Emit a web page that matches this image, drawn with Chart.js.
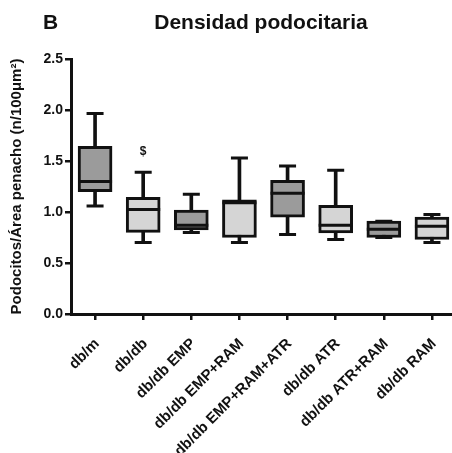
<!DOCTYPE html>
<html>
<head>
<meta charset="utf-8">
<script src="https://cdn.jsdelivr.net/npm/chart.js@4"></script>
<style>
  html, body { margin: 0; padding: 0; background: #fff; overflow: hidden; }
  #wrap { position: relative; width: 458px; height: 453px; }
  .lbl { position: absolute; top: 10px; font: bold 21px "Liberation Sans", Arial, sans-serif; color: #111; white-space: nowrap; }
  #panel { left: 43px; }
  #title { left: 261px; transform: translateX(-50%); }
</style>
</head>
<body>
<div id="wrap">
  <canvas id="chart"></canvas>
  <div id="panel" class="lbl">B</div>
  <div id="title" class="lbl">Densidad podocitaria</div>
</div>
<script>
// grupos
const categories = ['db/m', 'db/db', 'db/db EMP', 'db/db EMP+RAM', 'db/db EMP+RAM+ATR', 'db/db ATR', 'db/db ATR+RAM', 'db/db RAM'];

// valores de cada caja (min, Q1, mediana, Q3, max)
const minVals = [1.06, 0.70, 0.80, 0.70, 0.78, 0.73, 0.75, 0.70];
const q1Vals = [1.20, 0.80, 0.825, 0.75, 0.95, 0.795, 0.75, 0.73];
const medianVals = [1.30, 1.025, 0.87, 1.09, 1.185, 0.87, 0.83, 0.86];
const q3Vals = [1.645, 1.145, 1.02, 1.12, 1.31, 1.065, 0.91, 0.95];
const maxVals = [1.965, 1.39, 1.175, 1.53, 1.45, 1.41, 0.91, 0.975];

// marcas de significancia
const sigLabels = ['', '$', '', '', '', '', '', ''];
const sigY = [0, 1.595, 0, 0, 0, 0, 0, 0];

// eje y
const yTicks = [0, 0.5, 1.0, 1.5, 2.0, 2.5];

const darkFill = '#9b9b9b';
const lightFill = '#d5d5d5';
const ink = '#111';

Chart.defaults.font.family = '"Liberation Sans", Arial, sans-serif';
Chart.defaults.color = ink;

// texto de significancia sobre las cajas
const sigPlugin = {
    id: 'sig',
    afterDatasetsDraw(chart) {
        const { ctx, scales: { x, y } } = chart;
        ctx.save();
        ctx.font = 'bold 12px "Liberation Sans", Arial, sans-serif';
        ctx.fillStyle = ink;
        ctx.textAlign = 'center';
        ctx.textBaseline = 'middle';
        sigLabels.forEach((s, i) => {
            if (s) ctx.fillText(s, x.getPixelForValue(i), y.getPixelForValue(sigY[i]));
        });
        ctx.restore();
    }
};

new Chart(document.getElementById('chart'), {
    type: 'bar',
    data: {
        labels: categories,
        datasets: [
            {
                // bigotes
                type: 'bar',
                data: categories.map((_, i) => [minVals[i], maxVals[i]]),
                backgroundColor: ink,
                barThickness: 3,
                grouped: false,
                order: 3
            },
            {
                // cajas
                type: 'bar',
                data: categories.map((_, i) => [q1Vals[i], q3Vals[i]]),
                backgroundColor: categories.map((_, i) => i % 2 === 0 ? darkFill : lightFill),
                borderColor: ink,
                borderWidth: 3,
                borderSkipped: false,
                barThickness: 34,
                grouped: false,
                order: 2
            },
            {
                // medianas
                type: 'line',
                data: medianVals,
                showLine: false,
                pointStyle: 'line',
                pointRadius: 17,
                pointBorderWidth: 3,
                pointBorderColor: ink,
                order: 1
            },
            {
                type: 'line',
                data: maxVals,
                showLine: false,
                pointStyle: 'line',
                pointRadius: 8.5,
                pointBorderWidth: 3,
                pointBorderColor: ink,
                order: 1
            },
            {
                type: 'line',
                data: minVals,
                showLine: false,
                pointStyle: 'line',
                pointRadius: 8.5,
                pointBorderWidth: 3,
                pointBorderColor: ink,
                order: 1
            }
        ]
    },
    options: {
        responsive: true,
        maintainAspectRatio: false,
        animation: false,
        events: [],
        layout: { autoPadding: false, padding: { top: 59, right: 2 } },
        plugins: {
            legend: { display: false },
            tooltip: { enabled: false }
        },
        scales: {
            x: {
                afterFit(scale) {
                    scale.height = 139;
                    scale.paddingLeft = 0;
                    scale.paddingRight = 0;
                },
                border: { color: ink, width: 3 },
                grid: { display: true, drawOnChartArea: false, offset: false, tickLength: 6, color: ink, lineWidth: 2.5 },
                ticks: {
                    minRotation: 45,
                    maxRotation: 45,
                    padding: 15,
                    labelOffset: 2,
                    color: ink,
                    font: { size: 15, weight: 'bold' }
                }
            },
            y: {
                min: 0,
                max: 2.5,
                afterFit(scale) {
                    scale.width = 71;
                    scale.paddingTop = 0;
                    scale.paddingBottom = 0;
                },
                afterBuildTicks(scale) { scale.ticks = yTicks.map(v => ({ value: v })); },
                border: { color: ink, width: 3 },
                grid: { display: true, drawOnChartArea: false, tickLength: 6, color: ink, lineWidth: 2.5 },
                ticks: {
                    padding: 2,
                    color: ink,
                    font: { size: 14, weight: 'bold' },
                    callback: v => Number(v).toFixed(1)
                },
                title: {
                    display: true,
                    text: 'Podocitos/Área penacho (n/100μm²)',
                    color: ink,
                    font: { size: 15, weight: 'bold' },
                    padding: { top: 8, bottom: 0 }
                }
            }
        }
    },
    plugins: [sigPlugin]
});
</script>
</body>
</html>
